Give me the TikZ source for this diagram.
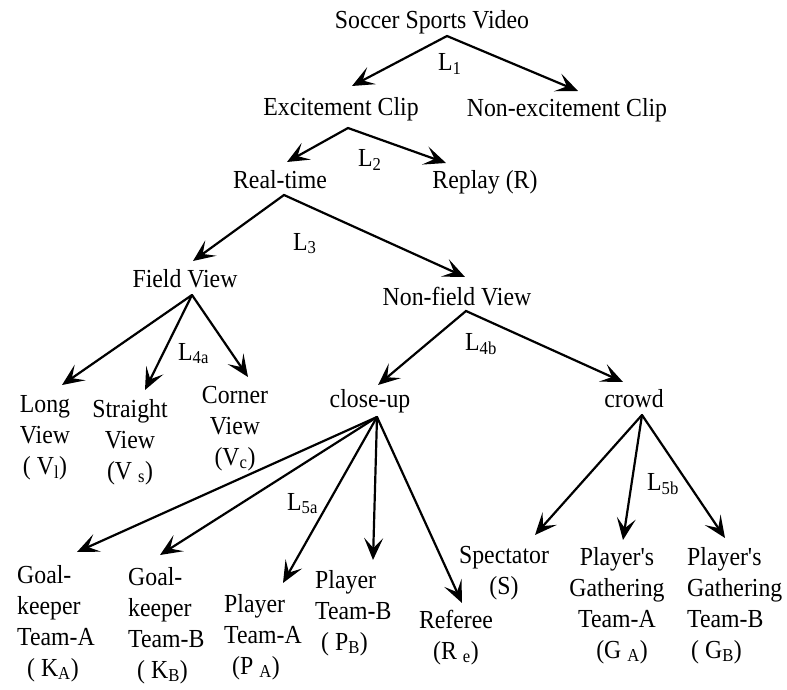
\documentclass[tikz,border=0pt]{standalone}
\usepackage{fontspec}
\setmainfont{Liberation Serif}[FakeStretch=0.915, Ligatures=TeXOff]
\usetikzlibrary{arrows.meta}
\newcommand\mlines[2]{\begin{tabular}[t]{@{}#1@{}}#2\end{tabular}}
\begin{document}
\begin{tikzpicture}[x=1pt,y=-1pt,
  every node/.style={font=\fontsize{26}{31}\selectfont, inner sep=0pt},
  txt/.style={anchor=base},
  txtl/.style={anchor=base west},
  lab/.style={anchor=base west},
  arrowhd/.tip={Stealth[length=22pt,width=19pt,inset=10pt]},
  arr/.style={draw=black, line width=2.2pt, line cap=round, arrows={-arrowhd}},
  arrtwo/.style={draw=black, line width=2.2pt, line join=miter, arrows={arrowhd-arrowhd}}]
\useasboundingbox (0,0) rectangle (787,690);

% nodes
\node[txt] (ssv) at (432,29) {Soccer Sports Video};
\node[txt] (exc) at (341,116) {Excitement Clip};
\node[txt] (nex) at (567,117) {Non-excitement Clip};
\node[txt] (rt) at (280,188) {Real-time};
\node[txt] (rep) at (485,188) {Replay (R)};
\node[txt] (fv) at (185,287) {Field View};
\node[txt] (nfv) at (457,305) {Non-field View};
\node[txt] (lv) at (45,412) {\mlines{c}{Long\\View\\( V\textsubscript{l})}};
\node[txt] (sv) at (130,417) {\mlines{c}{Straight\\View\\(V \textsubscript{s})}};
\node[txt] (cv) at (235,403) {\mlines{c}{Corner\\View\\(V\textsubscript{c})}};
\node[txt] (cu) at (370,407) {close-up};
\node[txt] (cr) at (634,407) {crowd};
\node[txtl] (ka) at (17,583) {\mlines{l}{Goal-\\keeper\\Team-A\\\hspace*{10pt}( K\textsubscript{A})}};
\node[txtl] (kb) at (128,585) {\mlines{l}{Goal-\\keeper\\Team-B\\\hspace*{9pt}( K\textsubscript{B})}};
\node[txtl] (pa) at (224,612) {\mlines{l}{Player\\Team-A\\\hspace*{8pt}(P \textsubscript{A})}};
\node[txtl] (pb) at (315,588) {\mlines{l}{Player\\Team-B\\\hspace*{6pt}( P\textsubscript{B})}};
\node[txt] (re) at (456,628) {\mlines{c}{Referee\\(R \textsubscript{e})}};
\node[txt] (sp) at (504,563) {\mlines{c}{Spectator\\(S)}};
\node[txt] (ga) at (617,565) {\mlines{c}{Player's\\Gathering\\Team-A\\\hspace*{10pt}(G \textsubscript{A})}};
\node[txtl] (gb) at (687,565) {\mlines{l}{Player's\\Gathering\\Team-B\\\hspace*{4pt}( G\textsubscript{B})}};

% level labels
\node[lab] (l1) at (438,71) {L\textsubscript{1}};
\node[lab] (l2) at (358,167) {L\textsubscript{2}};
\node[lab] (l3) at (293,250) {L\textsubscript{3}};
\node[lab] (l4a) at (178,360) {L\textsubscript{4a}};
\node[lab] (l4b) at (465,350) {L\textsubscript{4b}};
\node[lab] (l5a) at (287,510) {L\textsubscript{5a}};
\node[lab] (l5b) at (647,490) {L\textsubscript{5b}};

% apex and tip coordinates
\coordinate (a1) at (447,36);
\coordinate (t1a) at (352,86);
\coordinate (t1b) at (578,91);
\coordinate (a2) at (348,128);
\coordinate (t2a) at (287,162);
\coordinate (t2b) at (446,163);
\coordinate (a3) at (284,195);
\coordinate (t3a) at (193,261);
\coordinate (t3b) at (465,277);
\coordinate (a4) at (192,295);
\coordinate (t4a) at (62,385);
\coordinate (t4b) at (145,390);
\coordinate (t4c) at (248,377);
\coordinate (a5) at (466,311);
\coordinate (t5a) at (378,385);
\coordinate (t5b) at (623,382);
\coordinate (a6) at (377,417);
\coordinate (t6a) at (77,552);
\coordinate (t6b) at (160,555);
\coordinate (t6c) at (283,583);
\coordinate (t6d) at (373,560);
\coordinate (t6e) at (462,603);
\coordinate (a7) at (642,415);
\coordinate (t7a) at (535,535);
\coordinate (t7b) at (623,540);
\coordinate (t7c) at (725,538);

% connectors
\path[arrtwo] (t1a) -- (a1) -- (t1b);
\path[arrtwo] (t2a) -- (a2) -- (t2b);
\path[arrtwo] (t3a) -- (a3) -- (t3b);
\path[arr] (a4) -- (t4a);
\path[arr] (a4) -- (t4b);
\path[arr] (a4) -- (t4c);
\path[arrtwo] (t5a) -- (a5) -- (t5b);
\path[arr] (a6) -- (t6a);
\path[arr] (a6) -- (t6b);
\path[arr] (a6) -- (t6c);
\path[arr] (a6) -- (t6d);
\path[arr] (a6) -- (t6e);
\path[arr] (a7) -- (t7a);
\path[arr] (a7) -- (t7b);
\path[arr] (a7) -- (t7c);
\end{tikzpicture}
\end{document}
